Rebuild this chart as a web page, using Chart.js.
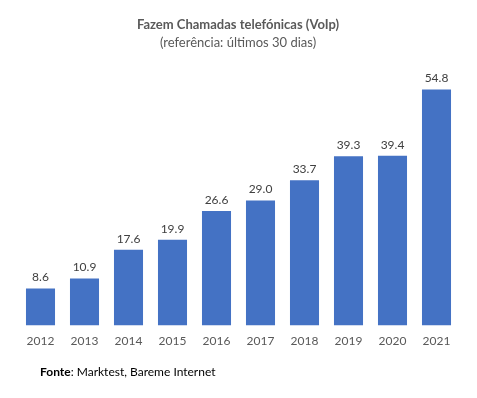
<!DOCTYPE html>
<html><head><meta charset="utf-8">
<script src="https://cdn.jsdelivr.net/npm/chart.js@4.4.0/dist/chart.umd.min.js"></script>
<style>html,body{margin:0;padding:0;background:#fff}#wrap{width:477px;height:398px}</style>
</head><body><div id="wrap"><canvas id="c" width="477" height="398"></canvas></div>
<script>
const categories = ['2012','2013','2014','2015','2016','2017','2018','2019','2020','2021'];
const values = [8.6, 10.9, 17.6, 19.9, 26.6, 29.0, 33.7, 39.3, 39.4, 54.8];
const titleText = 'Fazem Chamadas telefónicas (VoIp)';
const subtitleText = '(referência: últimos 30 dias)';
const sourceBold = 'Fonte';
const sourceRest = ': Marktest, Bareme Internet';
const FONT = 'Lato, "Open Sans", sans-serif';

const textPlugin = {
  id: 'texts',
  afterDraw(chart) {
    const ctx = chart.ctx;
    ctx.save();
    ctx.fillStyle = '#595959';
    ctx.textAlign = 'center';
    ctx.textBaseline = 'middle';
    ctx.font = 'bold 13px ' + FONT;
    ctx.fillText(titleText, 238, 25);
    ctx.font = '13px ' + FONT;
    ctx.fillText(subtitleText, 238, 43);
    const meta = chart.getDatasetMeta(0);
    ctx.font = '12px ' + FONT;
    ctx.fillStyle = '#404040';
    ctx.textBaseline = 'bottom';
    meta.data.forEach((bar, i) => {
      ctx.fillText(values[i].toFixed(1), bar.x, bar.y - 5);
    });
    ctx.textAlign = 'left';
    ctx.textBaseline = 'middle';
    ctx.fillStyle = '#000000';
    ctx.font = 'bold 12px ' + FONT;
    ctx.fillText(sourceBold, 40, 372);
    const w = ctx.measureText(sourceBold).width;
    ctx.font = '12px ' + FONT;
    ctx.fillText(sourceRest, 40 + w, 372);
    ctx.restore();
  }
};

new Chart(document.getElementById('c'), {
  type: 'bar',
  data: { labels: categories, datasets: [{ data: values, backgroundColor: '#4472C4', categoryPercentage: 1, barPercentage: 0.66 }] },
  options: {
    responsive: false, animation: false,
    layout: { padding: { left: 18.5, right: 18.5, top: 67, bottom: 50 } },
    plugins: { legend: { display: false }, tooltip: { enabled: false } },
    scales: {
      x: { grid: { display: false }, border: { display: false },
           ticks: { color: '#595959', font: { family: FONT, size: 12 }, padding: 0, maxRotation: 0 } },
      y: { display: false, min: 0, max: 60 }
    }
  },
  plugins: [textPlugin]
});
</script></body></html>
